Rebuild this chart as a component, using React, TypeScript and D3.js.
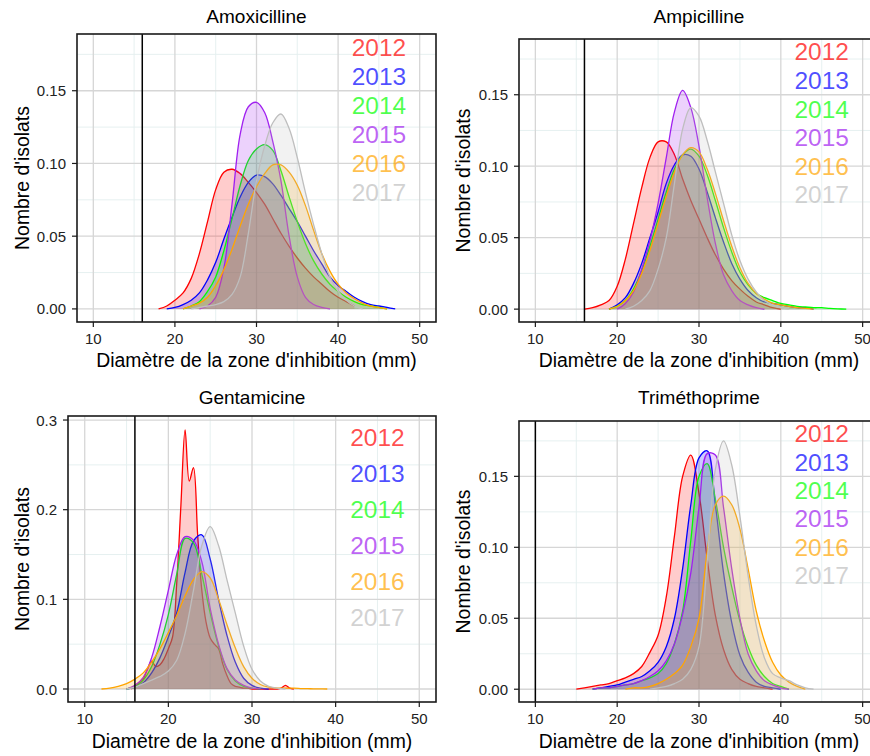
import React from 'react';
import * as d3 from 'd3';

const years = ['2012', '2013', '2014', '2015', '2016', '2017'];
const lineColors = ['#FF0000', '#0000FF', '#00FF00', '#A020F0', '#FFA500', '#BEBEBE'];
const xTicks = [10, 20, 30, 40, 50];
const xMinor = [15, 25, 35, 45];

// Amoxicilline: density per 1 mm, starting at amoxStart
const amoxStart = [18, 19, 21, 23, 21, 22];
const amox2012 = [0.000, 0.002, 0.006, 0.011, 0.021, 0.038, 0.060, 0.082, 0.094, 0.096, 0.093, 0.087, 0.080, 0.072, 0.062, 0.052, 0.043, 0.035, 0.028, 0.022, 0.017, 0.012, 0.008, 0.005, 0.002];
const amox2013 = [0.000, 0.001, 0.003, 0.006, 0.011, 0.020, 0.032, 0.048, 0.063, 0.077, 0.087, 0.092, 0.091, 0.086, 0.078, 0.069, 0.060, 0.050, 0.040, 0.031, 0.022, 0.016, 0.012, 0.008, 0.005, 0.003, 0.002, 0.001, 0.000];
const amox2014 = [0.000, 0.002, 0.005, 0.012, 0.022, 0.040, 0.062, 0.085, 0.102, 0.110, 0.113, 0.109, 0.095, 0.077, 0.060, 0.045, 0.033, 0.024, 0.017, 0.012, 0.008, 0.005, 0.003, 0.002, 0.001, 0.000];
const amox2015 = [0.000, 0.002, 0.008, 0.028, 0.072, 0.120, 0.139, 0.142, 0.135, 0.115, 0.088, 0.050, 0.022, 0.008, 0.003, 0.001, 0.000];
const amox2016 = [0.000, 0.002, 0.004, 0.008, 0.016, 0.027, 0.041, 0.057, 0.072, 0.084, 0.093, 0.099, 0.099, 0.094, 0.085, 0.071, 0.054, 0.038, 0.026, 0.017, 0.011, 0.007, 0.004, 0.002, 0.001, 0.000];
const amox2017 = [0.000, 0.001, 0.002, 0.003, 0.005, 0.010, 0.022, 0.052, 0.088, 0.112, 0.128, 0.134, 0.124, 0.104, 0.080, 0.058, 0.038, 0.022, 0.012, 0.006, 0.002, 0.000];

// Ampicilline
const ampiStart = [16, 19, 19, 20, 19, 21];
const ampi2012 = [0.000, 0.001, 0.003, 0.006, 0.016, 0.035, 0.060, 0.085, 0.106, 0.117, 0.117, 0.108, 0.091, 0.076, 0.063, 0.050, 0.038, 0.028, 0.020, 0.014, 0.009, 0.005, 0.003, 0.001, 0.000];
const ampi2013 = [0.000, 0.003, 0.008, 0.018, 0.032, 0.050, 0.068, 0.088, 0.101, 0.108, 0.107, 0.098, 0.082, 0.064, 0.047, 0.032, 0.021, 0.013, 0.008, 0.005, 0.004, 0.003, 0.002, 0.001, 0.001, 0.000];
const ampi2014 = [0.000, 0.002, 0.006, 0.014, 0.027, 0.044, 0.063, 0.082, 0.098, 0.108, 0.112, 0.107, 0.094, 0.076, 0.057, 0.040, 0.026, 0.017, 0.011, 0.008, 0.006, 0.004, 0.003, 0.002, 0.0015, 0.001, 0.001, 0.0005, 0.0002, 0.000];
const ampi2015 = [0.000, 0.004, 0.012, 0.028, 0.048, 0.074, 0.106, 0.138, 0.153, 0.141, 0.114, 0.078, 0.046, 0.024, 0.013, 0.006, 0.003, 0.001, 0.000];
const ampi2016 = [0.000, 0.002, 0.006, 0.013, 0.025, 0.041, 0.060, 0.079, 0.096, 0.108, 0.113, 0.110, 0.098, 0.081, 0.062, 0.044, 0.029, 0.018, 0.011, 0.007, 0.004, 0.003, 0.002, 0.001, 0.0005, 0.000];
const ampi2017 = [0.000, 0.002, 0.006, 0.013, 0.028, 0.050, 0.088, 0.126, 0.141, 0.135, 0.118, 0.096, 0.074, 0.052, 0.034, 0.021, 0.012, 0.006, 0.003, 0.001, 0.000];

// Gentamicine (2012 read every 0.5 mm)
const gentaStart = [15.5, 15, 15, 15, 12, 15];
const gentaStep = [0.5, 1, 1, 1, 1, 1];
const genta2012 = [0.000, 0.003, 0.006, 0.011, 0.022, 0.031, 0.025, 0.027, 0.034, 0.045, 0.058, 0.118, 0.205, 0.289, 0.232, 0.247, 0.172, 0.110, 0.075, 0.057, 0.050, 0.045, 0.028, 0.015, 0.006, 0.003, 0.002, 0.001, 0.001, 0.000, 0.000, 0.000, 0.000, 0.000, 0.000, 0.000, 0.001, 0.004, 0.001, 0.000];
const genta2013 = [0.000, 0.002, 0.007, 0.018, 0.035, 0.058, 0.085, 0.130, 0.165, 0.172, 0.145, 0.100, 0.060, 0.030, 0.012, 0.004, 0.001, 0.000];
const genta2014 = [0.000, 0.003, 0.010, 0.025, 0.050, 0.083, 0.128, 0.168, 0.163, 0.128, 0.085, 0.048, 0.022, 0.009, 0.003, 0.001, 0.000];
const genta2015 = [0.000, 0.004, 0.013, 0.035, 0.070, 0.110, 0.150, 0.170, 0.166, 0.142, 0.090, 0.050, 0.023, 0.010, 0.004, 0.001, 0.000];
const genta2016 = [0.000, 0.001, 0.003, 0.006, 0.011, 0.018, 0.030, 0.045, 0.063, 0.082, 0.104, 0.122, 0.131, 0.124, 0.100, 0.072, 0.046, 0.025, 0.012, 0.005, 0.002, 0.001, 0.001, 0.001, 0.0005, 0.0003, 0.0001, 0.000];
const genta2017 = [0.000, 0.002, 0.006, 0.010, 0.014, 0.020, 0.032, 0.062, 0.110, 0.160, 0.181, 0.160, 0.122, 0.085, 0.048, 0.022, 0.009, 0.003, 0.001, 0.000];

// Triméthoprime
const trimStart = [15, 17, 17, 17, 21, 24];
const trim2012 = [0.000, 0.001, 0.002, 0.003, 0.004, 0.006, 0.008, 0.011, 0.016, 0.026, 0.038, 0.065, 0.108, 0.150, 0.165, 0.138, 0.092, 0.052, 0.028, 0.014, 0.007, 0.004, 0.002, 0.001, 0.000];
const trim2013 = [0.000, 0.001, 0.002, 0.003, 0.005, 0.007, 0.009, 0.013, 0.019, 0.030, 0.050, 0.085, 0.130, 0.163, 0.168, 0.130, 0.082, 0.047, 0.024, 0.012, 0.005, 0.002, 0.001, 0.000];
const trim2014 = [0.000, 0.001, 0.001, 0.002, 0.003, 0.004, 0.006, 0.008, 0.011, 0.018, 0.032, 0.055, 0.105, 0.150, 0.159, 0.134, 0.100, 0.072, 0.048, 0.030, 0.017, 0.009, 0.004, 0.002, 0.000];
const trim2015 = [0.000, 0.001, 0.001, 0.002, 0.003, 0.004, 0.006, 0.009, 0.013, 0.020, 0.032, 0.053, 0.082, 0.128, 0.166, 0.165, 0.128, 0.085, 0.050, 0.025, 0.013, 0.006, 0.003, 0.001, 0.000];
const trim2016 = [0.000, 0.001, 0.001, 0.002, 0.004, 0.007, 0.011, 0.017, 0.030, 0.050, 0.097, 0.130, 0.136, 0.130, 0.113, 0.085, 0.055, 0.034, 0.019, 0.010, 0.005, 0.002, 0.000];
const trim2017 = [0.000, 0.001, 0.002, 0.004, 0.007, 0.014, 0.030, 0.090, 0.155, 0.175, 0.158, 0.122, 0.080, 0.045, 0.022, 0.011, 0.008, 0.006, 0.003, 0.001, 0.000];

const ticks005 = [0, 0.05, 0.1, 0.15];
const minor005 = [0.025, 0.075, 0.125, 0.175];
const ticks01 = [0, 0.1, 0.2, 0.3];
const minor01 = [0.05, 0.15, 0.25];
const legendY02 = [0.18, 0.16, 0.14, 0.12, 0.1, 0.08];
const legendY04 = [0.28, 0.24, 0.2, 0.16, 0.12, 0.08];

const FONT = 'Liberation Sans, Arial, Helvetica, sans-serif';

const panels = [
  {
    title: 'Amoxicilline', starts: amoxStart, steps: [1, 1, 1, 1, 1, 1],
    series: [amox2012, amox2013, amox2014, amox2015, amox2016, amox2017],
    yMax: 0.18, yTicks: ticks005, yMinor: minor005, fmt: '.2f', legendY: legendY02, vline: 16,
    box: { left: 77, right: 436, top: 34, bottom: 322 }, titleY: 16, yTitleX: 22, xTitleY: 360,
  },
  {
    title: 'Ampicilline', starts: ampiStart, steps: [1, 1, 1, 1, 1, 1],
    series: [ampi2012, ampi2013, ampi2014, ampi2015, ampi2016, ampi2017],
    yMax: 0.18, yTicks: ticks005, yMinor: minor005, fmt: '.2f', legendY: legendY02, vline: 16,
    box: { left: 519, right: 879, top: 39, bottom: 322 }, titleY: 16, yTitleX: 463, xTitleY: 360,
  },
  {
    title: 'Gentamicine', starts: gentaStart, steps: gentaStep,
    series: [genta2012, genta2013, genta2014, genta2015, genta2016, genta2017],
    yMax: 0.29, yTicks: ticks01, yMinor: minor01, fmt: '.1f', legendY: legendY04, vline: 16,
    box: { left: 68, right: 436, top: 416, bottom: 702 }, titleY: 397, yTitleX: 22, xTitleY: 741,
  },
  {
    title: 'Triméthoprime', starts: trimStart, steps: [1, 1, 1, 1, 1, 1],
    series: [trim2012, trim2013, trim2014, trim2015, trim2016, trim2017],
    yMax: 0.18, yTicks: ticks005, yMinor: minor005, fmt: '.2f', legendY: legendY02, vline: 10,
    box: { left: 519, right: 879, top: 421, bottom: 702 }, titleY: 397, yTitleX: 463, xTitleY: 741,
  },
];

function Panel({ p }: { p: any }) {
  const { left, right, top, bottom } = p.box;
  const x = d3.scaleLinear().domain([8, 52]).range([left, right]);
  const y = d3.scaleLinear().domain([-0.05 * p.yMax, 1.05 * p.yMax]).range([bottom, top]);
  const fmt = d3.format(p.fmt);

  const curve = d3.curveCatmullRom.alpha(0.5);
  const area = d3.area<[number, number]>()
    .x((d) => x(d[0])).y0(y(0)).y1((d) => y(d[1]))
    .curve(curve);
  const line = d3.line<[number, number]>()
    .x((d) => x(d[0])).y((d) => y(d[1]))
    .curve(curve);

  const cx = (left + right) / 2;
  const cy = (top + bottom) / 2;

  return (
    <g>
      {/* grid */}
      {xMinor.map((v) => (
        <line key={'xm' + v} x1={x(v)} x2={x(v)} y1={top} y2={bottom} stroke="#e3eeee" strokeWidth={0.9} />
      ))}
      {p.yMinor.map((v: number) => (
        <line key={'ym' + v} x1={left} x2={right} y1={y(v)} y2={y(v)} stroke="#e3eeee" strokeWidth={0.9} />
      ))}
      {xTicks.map((v) => (
        <line key={'xg' + v} x1={x(v)} x2={x(v)} y1={top} y2={bottom} stroke="#d6d6d6" strokeWidth={1.3} />
      ))}
      {p.yTicks.map((v: number) => (
        <line key={'yg' + v} x1={left} x2={right} y1={y(v)} y2={y(v)} stroke="#d6d6d6" strokeWidth={1.3} />
      ))}

      {/* densities */}
      {p.series.map((vals: number[], i: number) => {
        const pts: [number, number][] = vals.map((v, k) => [p.starts[i] + k * p.steps[i], v]);
        return (
          <g key={years[i]}>
            <path d={area(pts) || ''} fill={lineColors[i]} fillOpacity={0.2} stroke="none" />
            <path d={line(pts) || ''} fill="none" stroke={lineColors[i]} strokeWidth={1.3} />
          </g>
        );
      })}

      {/* threshold */}
      <line x1={x(p.vline)} x2={x(p.vline)} y1={top} y2={bottom} stroke="#000" strokeWidth={1.5} />

      {/* year labels */}
      {years.map((yr, i) => (
        <text key={'lg' + yr} x={x(45)} y={y(p.legendY[i])} fill={lineColors[i]} fillOpacity={0.7}
          fontSize={24.5} textAnchor="middle" dominantBaseline="central">{yr}</text>
      ))}

      {/* border */}
      <rect x={left} y={top} width={right - left} height={bottom - top} fill="none" stroke="#1a1a1a" strokeWidth={1.6} />

      {/* axes */}
      {xTicks.map((v) => (
        <g key={'xt' + v}>
          <line x1={x(v)} x2={x(v)} y1={bottom} y2={bottom + 5} stroke="#1a1a1a" strokeWidth={1.2} />
          <text x={x(v)} y={bottom + 16} fontSize={15} fill="#222" textAnchor="middle" dominantBaseline="central">{v}</text>
        </g>
      ))}
      {p.yTicks.map((v: number) => (
        <g key={'yt' + v}>
          <line x1={left - 5} x2={left} y1={y(v)} y2={y(v)} stroke="#1a1a1a" strokeWidth={1.2} />
          <text x={left - 11} y={y(v)} fontSize={15} fill="#222" textAnchor="end" dominantBaseline="central">{fmt(v)}</text>
        </g>
      ))}

      <text x={cx} y={p.titleY} fontSize={19} textAnchor="middle" dominantBaseline="central">{p.title}</text>
      <text x={cx} y={p.xTitleY} fontSize={19.4} textAnchor="middle" dominantBaseline="central">
        Diamètre de la zone d'inhibition (mm)
      </text>
      <text transform={`translate(${p.yTitleX},${cy}) rotate(-90)`} fontSize={19.4} textAnchor="middle" dominantBaseline="central">
        Nombre d'isolats
      </text>
    </g>
  );
}

export default function App() {
  return (
    <svg width={870} height={756} style={{ position: 'absolute', left: 0, top: 0, background: '#fff' }} fontFamily={FONT}>
      <rect width={870} height={756} fill="#fff" />
      {panels.map((p) => <Panel key={p.title} p={p} />)}
    </svg>
  );
}
